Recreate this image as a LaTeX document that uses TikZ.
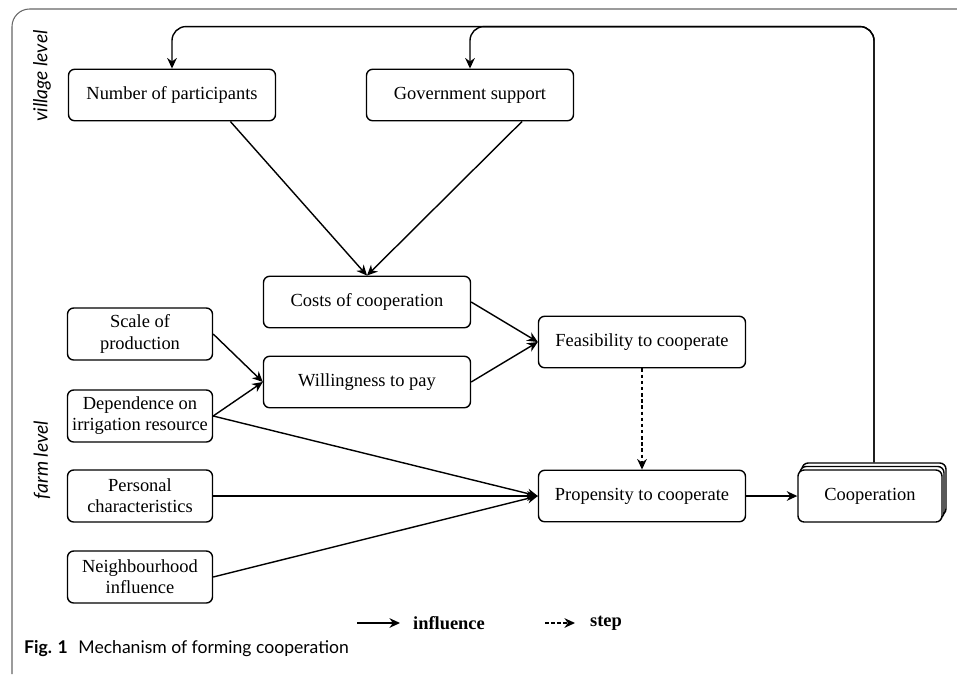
\documentclass[tikz,border=0pt]{standalone}
\usepackage{fontspec}
\setmainfont{Liberation Serif}
\newfontfamily\capfont{Lato}
\usetikzlibrary{calc,arrows.meta,shadows}

\begin{document}
\begin{tikzpicture}[x=0.02cm,y=-0.02cm,font=\fontsize{10.5}{12}\selectfont,
  box/.style={draw,rounded corners=3.5pt,line width=0.8pt,align=center,inner sep=1pt},
  wide/.style={box,minimum width=4.14cm,minimum height=1.03cm},
  small/.style={box,minimum width=2.9cm,minimum height=1.04cm},
  flow/.style={line width=0.8pt,-{Stealth[length=6pt,width=5.5pt]}},
  stepline/.style={flow,dash pattern=on 2pt off 1.5pt},
  levelname/.style={rotate=90,font=\capfont\itshape\fontsize{11}{13}\selectfont}]

\useasboundingbox (0,0) rectangle (957,674);
\draw[black!60,line width=0.6pt,rounded corners=10] (12,674) -- (12,9) -- (957,9);

\node[levelname] (village) at (42,76) {village level};
\node[levelname] (farm) at (42,460) {farm level};

\node[wide] (num) at (172,95) {Number of participants};
\node[wide] (gov) at (470,95) {Government support};
\node[wide] (costs) at (367,302) {Costs of cooperation};
\node[wide] (will) at (367,382) {Willingness to pay};
\node[wide] (feas) at (642,342) {Feasibility to cooperate};
\node[wide] (prop) at (642,496) {Propensity to cooperate};

\node[small] (scale) at (140,334) {Scale of\\production};
\node[small] (dep) at (140,416) {Dependence on\\irrigation resource};
\node[small] (pers) at (140,496) {Personal\\characteristics};
\node[small] (neigh) at (140,577) {Neighbourhood\\influence};

\node[box,fill=white,minimum width=2.88cm,minimum height=1.04cm,
  double copy shadow={shadow xshift=0.04cm,shadow yshift=0.07cm}] (coop) at (870,496) {Cooperation};

\coordinate (fb) at ($(coop.north)+(4,-7)$);
\draw[flow,rounded corners=8] (fb) |- ($(num.north)+(0,-42)$) -- (num.north);
\draw[flow,rounded corners=8] (fb) |- ($(gov.north)+(0,-42)$) -- (gov.north);

\draw[flow] ($(num.south west)!0.78!(num.south east)$) -- (costs.north);
\draw[flow] ($(gov.south west)!0.75!(gov.south east)$) -- (costs.north);
\draw[flow] (costs.east) -- (feas.west);
\draw[flow] (will.east) -- (feas.west);
\draw[flow] (scale.east) -- (will.west);
\draw[flow] (dep.east) -- (will.west);
\draw[flow] (dep.east) -- (prop.west);
\draw[flow] (pers.east) -- (prop.west);
\draw[flow] (neigh.east) -- (prop.west);
\draw[stepline] (feas.south) -- (prop.north);
\draw[flow] (prop.east) -- (coop.west);

\coordinate (a1) at (357,623);
\coordinate (a2) at (400,623);
\coordinate (b1) at (545,623);
\coordinate (b2) at (575,623);
\draw[flow] (a1) -- (a2);
\node[font=\bfseries\fontsize{10.5}{12}\selectfont] (infl) at (449,623) {influence};
\draw[stepline] (b1) -- (b2);
\node[font=\bfseries\fontsize{10.5}{12}\selectfont] (stp) at (606,623) {step};

\node[anchor=west,font=\capfont\fontsize{10}{12}\selectfont] (cap) at (18,649)
  {\textbf{Fig. 1}\hspace{0.6em}Mechanism of forming cooperation};

\end{tikzpicture}
\end{document}
